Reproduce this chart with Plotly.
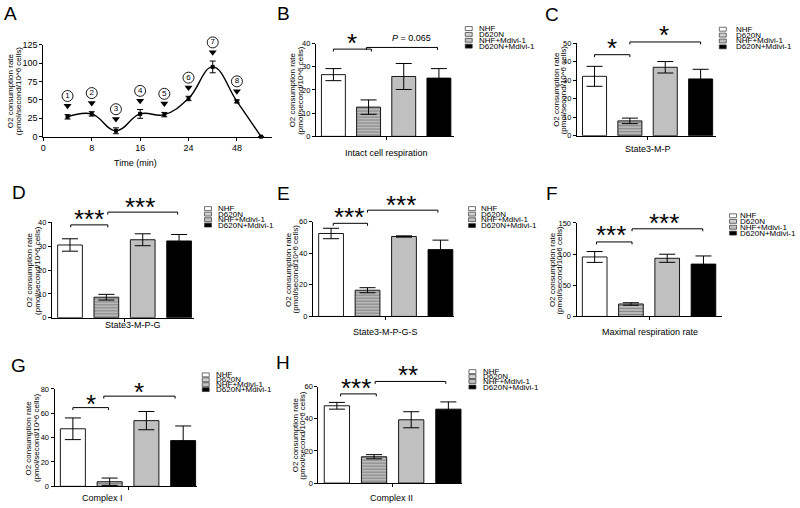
import plotly.graph_objects as go

W, H = 800, 508
FONT = "Liberation Sans, Arial, Helvetica, sans-serif"

# ---------------- data ----------------
time_tickvals = [0, 8, 16, 24, 32]
time_ticktext = ["0", "8", "16", "24", "48"]
time_x = [4, 8, 12, 16, 20, 24, 28, 32, 36]
rate_A = [27, 31, 8, 31, 30, 52, 95, 48, 0]
err_A = [3, 3, 4, 6, 3, 3, 8, 2, 0]
step_labels = ["1", "2", "3", "4", "5", "6", "7", "8"]

groups = ["NHF", "D620N", "NHF+Mdivi-1", "D620N+Mdivi-1"]
vals_B = [26.6, 12.6, 25.8, 25.1]
err_B = [2.6, 3.1, 5.6, 4.1]
vals_C = [32.1, 8.0, 37.0, 30.7]
err_C = [5.4, 1.5, 3.1, 5.2]
vals_D = [30.5, 8.6, 32.7, 32.2]
err_D = [2.6, 1.2, 2.5, 2.7]
vals_E = [52.5, 16.6, 50.6, 42.3]
err_E = [3.3, 1.6, 0.4, 6.0]
vals_F = [95.4, 20.0, 93.3, 84.0]
err_F = [8.7, 2.0, 6.5, 13.0]
vals_G = [47.3, 3.8, 54.0, 37.6]
err_G = [8.9, 3.0, 7.5, 12.0]
vals_H = [48.1, 16.4, 39.4, 46.0]
err_H = [2.1, 1.3, 5.0, 4.5]

xtitle_A = "Time (min)"
xtitles = ["Intact cell respiration", "State3-M-P", "State3-M-P-G", "State3-M-P-G-S",
           "Maximal respiration rate", "Complex I", "Complex II"]
sig_B = ["*", "<i>P</i> = 0.065"]
sig_C = ["*", "*"]
sig_D = ["***", "***"]
sig_E = ["***", "***"]
sig_F = ["***", "***"]
sig_G = ["*", "*"]
sig_H = ["***", "**"]
ytitle_l1 = "O2 consumption rate"
ytitle_l2 = "(pmol/second/10^6 cells)"

# ---------------- styles ----------------
bar_colors = ["white", "#c4c4c4", "#c0c0c0", "black"]
bar_patterns = ["", "-", "", ""]
swatch_colors = ["white", "#d0d0d0", "#c0c0c0", "black"]


def px(p):
    return p / W


def py(p):
    return 1 - p / H


# layout of bar panels (pixel geometry)
panels = [
    dict(letter="B", lpos=(282, 9), left=314, sp=35.3, xend=3.43, y0=134, ytop=39.3, ymax=40, dt=10,
         title=(385, 150.7), yt=(291.5, 299), leg=(464, 476, [24, 30, 36, 42]),
         vals=vals_B, errs=err_B, sig=sig_B,
         br=[(0.0, 1.08, 45.0), (0.94, 2.96, 43.3)], st=[(0.54, 33.5, 26), (2.22, 33.3, 9)]),
    dict(letter="C", lpos=(551, 10), left=576, sp=35.5, xend=3.43, y0=133.3, ytop=39, ymax=50, dt=10,
         title=(647.3, 146.7), yt=(555.5, 563), leg=(719, 734, [24.7, 30.7, 36.7, 42.7]),
         vals=vals_C, errs=err_C, sig=sig_C,
         br=[(0.0, 1.0, 50.7), (1.0, 3.0, 37.7)], st=[(0.49, 38.3, 26), (1.97, 25, 26)]),
    dict(letter="D", lpos=(15.7, 191), left=49, sp=36.5, xend=3.4, y0=319, ytop=221.7, ymax=40, dt=10,
         title=(130, 326.7), yt=(26.5, 34), leg=(202.3, 213.3, [207.7, 213.3, 219, 224.5]),
         vals=vals_D, errs=err_D, sig=sig_D,
         br=[(0.02, 1.04, 224.3), (1.04, 2.96, 211.3)], st=[(0.53, 212.7, 26), (1.92, 200, 26)]),
    dict(letter="E", lpos=(282, 192), left=311, sp=36.6, xend=3.37, y0=317.7, ytop=221, ymax=60, dt=20,
         title=(384, 333.3), yt=(286, 293.5), leg=(467.3, 477.3, [207.7, 213.3, 219, 225]),
         vals=vals_E, errs=err_E, sig=sig_E,
         br=[(0.06, 1.0, 222.7), (1.0, 2.93, 209.3)], st=[(0.49, 211, 26), (1.93, 198.3, 26)]),
    dict(letter="F", lpos=(551.5, 192.5), left=575.7, sp=36.4, xend=3.5, y0=317.7, ytop=222.3, ymax=150, dt=50,
         title=(649, 333.3), yt=(551.5, 559), leg=(729.3, 737.3, [215, 220.7, 226.7, 232.7]),
         vals=vals_F, errs=err_F, sig=sig_F,
         br=[(0.05, 1.03, 241.7), (1.03, 2.98, 228.3)], st=[(0.46, 229, 26), (1.92, 216.7, 26)]),
    dict(letter="G", lpos=(16, 367.5), left=51.7, sp=36.9, xend=3.37, y0=491, ytop=391.7, ymax=80, dt=20,
         title=(100, 503), yt=(26, 33.5), leg=(200, 211.7, [377.3, 382.3, 387.3, 392.3]),
         vals=vals_G, errs=err_G, sig=sig_G,
         br=[(0.0, 0.97, 410.7), (0.84, 2.78, 399)], st=[(0.5, 401.7, 26), (1.8, 389, 26)]),
    dict(letter="H", lpos=(281.5, 364.5), left=316.5, sp=37.3, xend=3.38, y0=487.7, ytop=389.3, ymax=60, dt=20,
         title=(390, 503), yt=(293.5, 301), leg=(467.7, 479.3, [374, 379, 384, 389.7]),
         vals=vals_H, errs=err_H, sig=sig_H,
         br=[(0.1, 1.06, 396.7), (1.03, 2.93, 384)], st=[(0.52, 385, 26), (1.91, 371.7, 26)]),
]

axis_common = dict(showline=True, linecolor="black", linewidth=1, ticks="outside", ticklen=3,
                   tickwidth=1, tickcolor="black", showgrid=False, zeroline=False,
                   tickfont=dict(family=FONT, size=7.5, color="black"), fixedrange=True)

fig = go.Figure()
layout = dict(width=W, height=H, margin=dict(l=0, r=0, t=0, b=0), autosize=False,
              paper_bgcolor="white", plot_bgcolor="rgba(0,0,0,0)", showlegend=False,
              font=dict(family=FONT, color="black"))
annotations = []
shapes = []


def add_text(text, x, y, size, xref="paper", yref="paper", angle=0, xanchor="center", yanchor="middle"):
    annotations.append(dict(text=text, x=x, y=y, xref=xref, yref=yref, showarrow=False,
                            textangle=angle, xanchor=xanchor, yanchor=yanchor,
                            font=dict(family=FONT, size=size, color="black")))


# ---------------- Panel A ----------------
A_left, A_right, A_y0, A_top = 40.5, 270, 134.3, 40.7
pxu = (A_y0 - A_top) / 125.0
layout["xaxis"] = dict(axis_common, domain=[px(A_left), px(A_right)], range=[0, 37.8], anchor="y",
                       tickvals=time_tickvals, ticktext=time_ticktext,
                       tickfont=dict(family=FONT, size=9, color="black"))
layout["yaxis"] = dict(axis_common, domain=[py(A_y0), py(A_top)], range=[0, 125], anchor="x",
                       tick0=0, dtick=25, tickfont=dict(family=FONT, size=9, color="black"))
# invisible companion axis with the same scale that extends to the top of the figure (for step labels)
layout["yaxis9"] = dict(domain=[py(A_y0), 1], range=[0, A_y0 / pxu], anchor="x", visible=False,
                        fixedrange=True, showgrid=False, zeroline=False)
arrow_y = [v + e + 9 / pxu for v, e in zip(rate_A[:8], err_A[:8])]
circle_y = [a + 10 / pxu for a in arrow_y]
fig.add_trace(go.Scatter(x=time_x[:8], y=arrow_y, mode="markers", xaxis="x", yaxis="y9",
                         marker=dict(symbol="triangle-down", size=7, color="black")))
fig.add_trace(go.Scatter(x=time_x[:8], y=circle_y, mode="markers+text", xaxis="x", yaxis="y9",
                         text=step_labels, textposition="middle center",
                         textfont=dict(family=FONT, size=8, color="black"),
                         marker=dict(symbol="circle-open", size=11, color="black", line=dict(width=0.9))))
fig.add_trace(go.Scatter(
    x=time_x, y=rate_A, mode="lines+markers", xaxis="x", yaxis="y",
    line=dict(color="black", width=1.4, shape="spline", smoothing=1.2),
    marker=dict(symbol="square", size=4, color="black"),
    error_y=dict(type="data", array=err_A, color="black", thickness=1, width=3),
    cliponaxis=False))
add_text("A", px(8), py(9), 19)
add_text(xtitle_A, px(133), py(161.5), 9)
add_text(ytitle_l1, px(7.5), py((A_y0 + A_top) / 2), 8, angle=-90)
add_text(ytitle_l2, px(15.5), py((A_y0 + A_top) / 2), 8, angle=-90)

# ---------------- Bar panels ----------------
for i, p in enumerate(panels):
    n = i + 2
    xa, ya = f"x{n}", f"y{n}"
    right = p["left"] + p["sp"] * (p["xend"] + 0.5)
    layout[f"xaxis{n}"] = dict(axis_common, domain=[px(p["left"]), px(right)], range=[-0.5, p["xend"]],
                               anchor=ya, tickvals=[1.5], ticktext=[""])
    layout[f"yaxis{n}"] = dict(axis_common, domain=[py(p["y0"]), py(p["ytop"])], range=[0, p["ymax"]],
                               anchor=xa, tick0=0, dtick=p["dt"])
    fig.add_trace(go.Bar(
        x=[0, 1, 2, 3], y=p["vals"], width=0.68, xaxis=xa, yaxis=ya,
        marker=dict(color=bar_colors, line=dict(color="black", width=0.9),
                    pattern=dict(shape=bar_patterns, fgcolor="white", fillmode="overlay",
                                 size=3, solidity=0.45)),
        error_y=dict(type="data", array=p["errs"], color="black", thickness=1, width=8)))
    # panel letter, titles
    add_text(p["letter"], px(p["lpos"][0]), py(p["lpos"][1]), 19)
    add_text(xtitles[i], px(p["title"][0]), py(p["title"][1]), 9)
    ymid = (p["y0"] + p["ytop"]) / 2
    add_text(ytitle_l1, px(p["yt"][0]), py(ymid), 8, angle=-90)
    add_text(ytitle_l2, px(p["yt"][1]), py(ymid), 8, angle=-90)
    # legend
    sx, tx, rows = p["leg"]
    for g, col, ry in zip(groups, swatch_colors, rows):
        shapes.append(dict(type="rect", xref="paper", yref="paper", x0=px(sx), x1=px(sx + 7),
                           y0=py(ry + 2), y1=py(ry - 2), fillcolor=col,
                           line=dict(color="#333333", width=0.7)))
        add_text(g, px(tx), py(ry), 8, xanchor="left")
    # significance brackets
    for (x0, x1, yb) in p["br"]:
        path = (f"M {x0},{py(yb + 2.5)} L {x0},{py(yb)} L {x1},{py(yb)} L {x1},{py(yb + 2.5)}")
        shapes.append(dict(type="path", path=path, xref=xa, yref="paper",
                           line=dict(color="black", width=1)))
    for (sx_, sy, fs), txt in zip(p["st"], p["sig"]):
        if txt.startswith("*"):
            add_text(txt, sx_, py(sy + 0.22 * fs), fs, xref=xa)
        else:
            add_text(txt, sx_, py(sy), fs, xref=xa)

layout["annotations"] = annotations
layout["shapes"] = shapes
fig.update_layout(**layout)
fig.write_html("out.html", config={"displayModeBar": False},
               post_script="document.body.style.margin='0';document.body.style.overflow='hidden';")
